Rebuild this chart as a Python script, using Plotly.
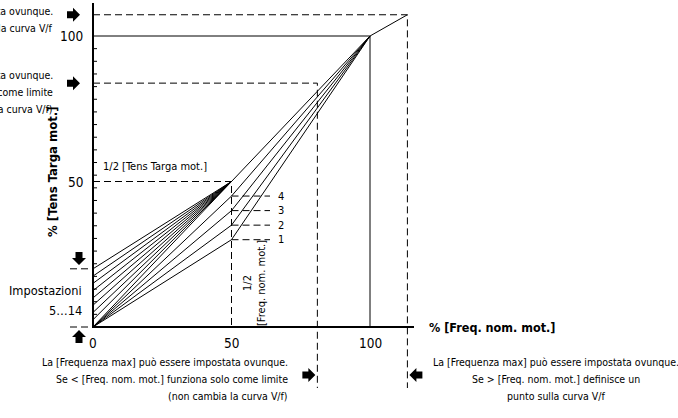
import plotly.graph_objects as go

# V/f curve values, % of motor nameplate
boost_levels = [0, 2.5, 5, 7.5, 10, 12.5, 15, 17.5, 20]   # settings 5...14: voltage at 0 Hz
vt_levels = [30, 35, 40, 45]                               # settings 1...4: voltage at 1/2 freq
vt_labels = ["1", "2", "3", "4"]
half_freq, half_volt = 50, 50
nom_freq, nom_volt = 100, 100
max_freq_low, max_volt_low = 81, 83.8
max_freq_high, max_volt_high = 113.5, 107.3
ytick_vals = [100 / 23 * k for k in range(1, 23)]
xtick_text = [("0", 0), ("50", 50), ("100", 100)]
ytick_text = [("50", 50), ("100", 100)]

txt_vmax_high = ["La [Tensione max] può essere impostata ovunque.",
                 "Se > [Tens Targa mot.] definisce un punto sulla curva V/f"]
txt_vmax_low = ["La [Tensione max] può essere impostata ovunque.",
                "Se < [Tens Targa mot.] funziona solo come limite",
                "(non cambia la curva V/f)"]
txt_fmax_low = ["La [Frequenza max] può essere impostata ovunque.",
                "Se < [Freq. nom. mot.] funziona solo come limite",
                "(non cambia la curva V/f)"]
txt_fmax_high = ["La [Frequenza max] può essere impostata ovunque.",
                 "Se > [Freq. nom. mot.] definisce un",
                 "punto sulla curva V/f"]

FONT = "DejaVu Sans Condensed, Liberation Sans Narrow, sans-serif"
W, H = 678, 418
OX, OY = 93, 327          # pixel position of the origin
SX, SY = 2.77, 2.91       # pixels per % unit


def px(x):
    return (x - OX) / SX


def py(y):
    return (OY - y) / SY


def segs(paths):
    xs, ys = [], []
    for p in paths:
        for x, y in p:
            xs.append(x)
            ys.append(y)
        xs.append(None)
        ys.append(None)
    return xs, ys


def block_arrow(xc, yc, direction):
    pts = [(-6, 3.5), (0, 3.5), (0, 7), (7, 0), (0, -7), (0, -3.5), (-6, -3.5)]
    rot = {"right": lambda a, b: (a, b), "left": lambda a, b: (-a, b),
           "up": lambda a, b: (b, a), "down": lambda a, b: (b, -a)}[direction]
    out = []
    for a, b in pts:
        ox, oy = rot(a, b)
        out.append(f"{xc + ox / SX:.3f},{yc + oy / SY:.3f}")
    return "M" + " L".join(out) + " Z"


# solid curves
solid = []
for b in boost_levels:
    solid.append([(0, b), (half_freq, half_volt)])
solid.append([(half_freq, half_volt), (nom_freq, nom_volt)])
for v in vt_levels:
    solid.append([(0, 0), (half_freq, v), (nom_freq, nom_volt)])
solid.append([(0, nom_volt), (nom_freq, nom_volt), (nom_freq, 0)])
solid.append([(nom_freq, nom_volt), (max_freq_high, max_volt_high)])

# dashed guides
dashed = [[(0, half_volt), (half_freq, half_volt), (half_freq, 0)]]
for v in vt_levels:
    dashed.append([(half_freq, v), (px(270), v)])
dashed.append([(0, max_volt_low), (max_freq_low, max_volt_low), (max_freq_low, py(388))])
dashed.append([(0, max_volt_high), (max_freq_high, max_volt_high), (max_freq_high, py(388))])
dashed.append([(px(70), boost_levels[-1]), (px(89), boost_levels[-1])])
dashed.append([(px(70), 0), (px(89), 0)])

fig = go.Figure()
sx, sy = segs(solid)
fig.add_trace(go.Scatter(x=sx, y=sy, mode="lines", line=dict(color="black", width=1), hoverinfo="skip"))
dx, dy = segs(dashed)
fig.add_trace(go.Scatter(x=dx, y=dy, mode="lines",
                         line=dict(color="black", width=1, dash="7px,4px"), hoverinfo="skip"))

# axes
ax_x, ax_y = segs([[(0, py(3)), (0, 0), (px(414), 0)]])
fig.add_trace(go.Scatter(x=ax_x, y=ax_y, mode="lines", line=dict(color="black", width=2), hoverinfo="skip"))
tx, ty = segs([[(-1 / SX, t), (4 / SX, t)] for t in ytick_vals])
fig.add_trace(go.Scatter(x=tx, y=ty, mode="lines", line=dict(color="black", width=1), hoverinfo="skip"))

shapes = []
arrows = [
    (px(73), max_volt_high, "right"),
    (px(73), max_volt_low, "right"),
    (px(79), py(258), "down"),
    (px(79), py(337), "up"),
    (max_freq_low - 9 / SX, py(375), "right"),
    (max_freq_high + 9 / SX, py(375), "left"),
]
for xc, yc, d in arrows:
    shapes.append(dict(type="path", path=block_arrow(xc, yc, d), xref="x", yref="y",
                       fillcolor="black", line=dict(width=0)))

ann = []


def text(x, y, s, size=10.5, xanchor="center", bold=False, angle=0):
    ann.append(dict(x=x, y=y, xref="x", yref="y", text=f"<b>{s}</b>" if bold else s,
                    showarrow=False, xanchor=xanchor, yanchor="middle",
                    align=xanchor if xanchor != "center" else "center",
                    textangle=angle, font=dict(family=FONT, size=size, color="black")))


def block(x, y0, lines, xanchor):
    for i, s in enumerate(lines):
        text(x, py(y0 + 17 * i), s, xanchor=xanchor)


for s, v in xtick_text:
    text(v, py(343), s, size=13.5)
for s, v in ytick_text:
    text(px(85), v, s, size=13.5, xanchor="right")
for s, v in zip(vt_labels, vt_levels):
    text(px(276), v, s, size=11, xanchor="left")

text(px(155), py(166), "1/2 [Tens Targa mot.]", size=11)
text(px(254), py(283), "1/2<br>[Freq. nom. mot.]", size=11, angle=-90)
text(px(52), py(172), "% [Tens Targa mot.]", size=13, bold=True, angle=-90)
text(px(427), 0, "% [Freq. nom. mot.]", size=12.5, bold=True, xanchor="left")
text(px(84), py(290), "Impostazioni", size=12.7, xanchor="right")
text(px(84), py(310), "5…14", size=12.7, xanchor="right")

block(px(55), 11, txt_vmax_high, "right")
block(px(55), 75, txt_vmax_low, "right")
block(px(290), 362, txt_fmax_low, "right")
block(px(556), 362, txt_fmax_high, "center")

fig.update_layout(
    width=W, height=H, autosize=False,
    margin=dict(l=0, r=0, t=0, b=0),
    paper_bgcolor="white", plot_bgcolor="white",
    showlegend=False,
    shapes=shapes, annotations=ann,
    xaxis=dict(range=[px(0), px(W)], visible=False, fixedrange=True),
    yaxis=dict(range=[py(H), py(0)], visible=False, fixedrange=True),
)

fig.write_html("out.html", config={"displayModeBar": False},
               post_script="document.body.style.margin = '0';")
